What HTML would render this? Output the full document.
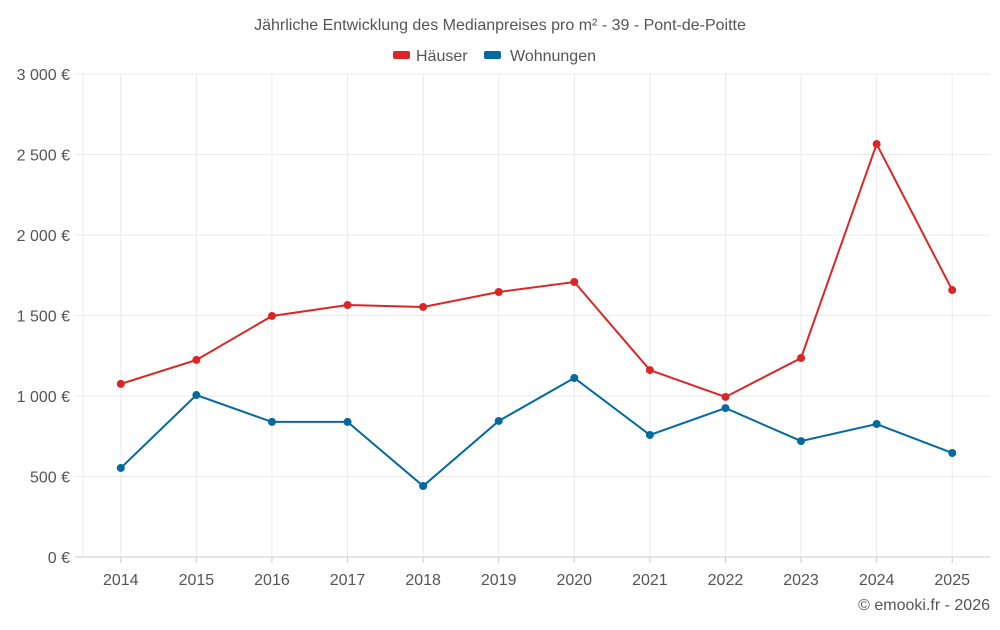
<!DOCTYPE html>
<html><head><meta charset="utf-8"><style>
body{margin:0;background:#fff;font-family:"Liberation Sans",sans-serif}
svg text{font-family:"Liberation Sans",sans-serif}
</style></head><body>
<svg id="c" width="1000" height="625">
<text x="500" y="30" text-anchor="middle" font-size="16" fill="#555">Jährliche Entwicklung des Medianpreises pro m² - 39 - Pont-de-Poitte</text>
<g>
<g><rect x="393" y="51" width="17" height="8" rx="2" fill="#dc2626"/><text x="416" y="61" font-size="16" fill="#555">Häuser</text></g>
<g><rect x="484" y="51" width="17" height="8" rx="2" fill="#0369a1"/><text x="510" y="61" font-size="16" fill="#555">Wohnungen</text></g>
</g>
<g id="grid"></g><g id="axes"></g><g id="series"></g>
<text x="990" y="610" text-anchor="end" font-size="16" fill="#555">© emooki.fr - 2026</text>
</svg>
<script>
const years=["2014","2015","2016","2017","2018","2019","2020","2021","2022","2023","2024","2025"];
const haeuser=[1075,1224,1497,1565,1553,1646,1708,1161,994,1236,2565,1658];
const wohnungen=[553,1006,839,839,441,845,1112,758,925,720,826,646];
const yTicks=[0,500,1000,1500,2000,2500,3000];
const yLabels=["0 €","500 €","1 000 €","1 500 €","2 000 €","2 500 €","3 000 €"];
const NS="http://www.w3.org/2000/svg";
const L=83,R=990,T=74,B=557;
const x=i=>L+(R-L)/years.length*(i+0.5);
const y=v=>B-(v/3000)*(B-T);
function mk(t,a,p){const e=document.createElementNS(NS,t);for(const k in a)e.setAttribute(k,a[k]);p.appendChild(e);return e;}
const g=document.getElementById('grid'),ax=document.getElementById('axes'),s=document.getElementById('series');
yTicks.forEach((v,i)=>{
 const l=mk('line',{x1:L-8,x2:R,y1:y(v),y2:y(v),stroke:i==0?'#ccc':'#ebebeb'},g);
 
 
 const t=mk('text',{x:70,y:y(v)+6,'text-anchor':'end','font-size':16,fill:'#555'},ax);
 t.textContent=yLabels[i];
 
 
});
const le=mk('line',{x1:L,x2:L,y1:T,y2:B,stroke:'#ebebeb'},g);


years.forEach((yr,i)=>{
 const l=mk('line',{x1:x(i),x2:x(i),y1:T,y2:B,stroke:'#ebebeb'},g);
 
 
 const tk=mk('line',{x1:x(i),x2:x(i),y1:B,y2:B+6,stroke:'#ccc'},ax);
 
 
 const t=mk('text',{x:x(i),y:585,'text-anchor':'middle','font-size':16,fill:'#555'},ax);
 t.textContent=yr;
 
 
});
function series(d,c,n){
 const p=mk('polyline',{points:d.map((v,i)=>x(i)+','+y(v)).join(' '),fill:'none',stroke:c,'stroke-width':2},s);
 
 
 d.forEach((v,i)=>{
  const ci=mk('circle',{cx:x(i),cy:y(v),r:4,fill:c},s);
  
  
 });
}
series(haeuser,'#dc2626','haeuser');
series(wohnungen,'#0369a1','wohnungen');
</script>
</body></html>
